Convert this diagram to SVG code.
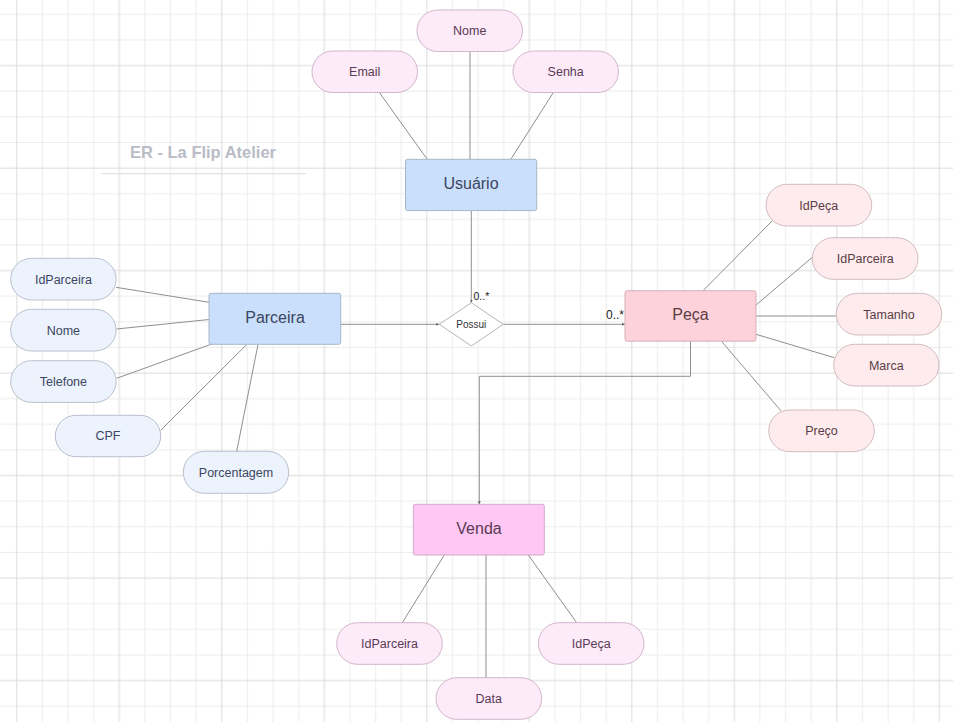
<svg xmlns="http://www.w3.org/2000/svg" width="953" height="722" viewBox="0 0 953 722">
<style>
text{font-family:"Liberation Sans",Arial,sans-serif}
.ent{font-size:16px;text-anchor:middle}
.att{font-size:12.5px;text-anchor:middle}
.con{fill:none;stroke:#8f8f8f;stroke-width:1}
.blueE{fill:#cadffc;stroke:#a9b6c9;stroke-width:1}
.pinkE{fill:#fed2da;stroke:#d6b2b8;stroke-width:1}
.magE{fill:#ffc8f4;stroke:#d3a9cb;stroke-width:1}
.blueA{fill:#edf3fd;stroke:#b9c0cc;stroke-width:1}
.pinkA{fill:#fdebee;stroke:#d3bcc0;stroke-width:1}
.magA{fill:#fdebf9;stroke:#d3b6cc;stroke-width:1}
.tb{fill:#3b4660}
.tp{fill:#5a3d45}
.tm{fill:#5a3a55}
</style>
<defs>
<pattern id="grid" patternUnits="userSpaceOnUse" x="4" y="1.65" width="102.5" height="102.5">
<g stroke="#ececec" stroke-width="1">
<line x1="38.43" y1="0" x2="38.43" y2="102.5"/>
<line x1="64.05" y1="0" x2="64.05" y2="102.5"/>
<line x1="89.68" y1="0" x2="89.68" y2="102.5"/>
<line x1="0" y1="12.8" x2="102.5" y2="12.8"/>
<line x1="0" y1="38.43" x2="102.5" y2="38.43"/>
<line x1="0" y1="89.68" x2="102.5" y2="89.68"/>
</g>
<g stroke="#dadada" stroke-width="1">
<line x1="12.8" y1="0" x2="12.8" y2="102.5"/>
<line x1="0" y1="64.05" x2="102.5" y2="64.05"/>
</g>
</pattern>
<marker id="arr" viewBox="0 0 6 6" refX="6" refY="3" markerWidth="3" markerHeight="3" orient="auto" markerUnits="userSpaceOnUse">
<path d="M0,0 L6,3 L0,6 z" fill="#666"/>
</marker>
</defs>
<rect x="0" y="0" width="953" height="722" fill="#ffffff"/>
<rect x="0" y="0" width="953" height="722" fill="url(#grid)"/>

<g id="title">
<text x="203" y="158" font-size="16.5" font-weight="bold" fill="#b9bcc6" text-anchor="middle">ER - La Flip Atelier</text>
<line x1="101" y1="173.7" x2="306" y2="173.7" stroke="#dcdcdf" stroke-width="1"/>
</g>

<g id="connectors">
<line class="con" x1="470" y1="51" x2="470" y2="159"/>
<line class="con" x1="379" y1="92" x2="427" y2="159"/>
<line class="con" x1="553" y1="93" x2="511" y2="159"/>
<line class="con" x1="116" y1="287.3" x2="209" y2="302.3"/>
<line class="con" x1="116.5" y1="329" x2="209" y2="319.5"/>
<line class="con" x1="116.7" y1="378.3" x2="211" y2="344.3"/>
<line class="con" x1="160.7" y1="430.3" x2="246.7" y2="344.5"/>
<line class="con" x1="236.7" y1="451.3" x2="258" y2="344.5"/>
<line class="con" x1="772.3" y1="220.7" x2="703" y2="290.7"/>
<line class="con" x1="812.3" y1="257.3" x2="756" y2="305"/>
<line class="con" x1="836.3" y1="316" x2="756" y2="316"/>
<line class="con" x1="834.3" y1="357.7" x2="756" y2="334.3"/>
<line class="con" x1="781.7" y1="411.7" x2="721.7" y2="341.5"/>
<line class="con" x1="402.3" y1="622.7" x2="444.3" y2="555"/>
<line class="con" x1="486" y1="677.7" x2="486" y2="555"/>
<line class="con" x1="576.7" y1="622.7" x2="528.3" y2="555"/>
<line class="con" x1="471.3" y1="210.5" x2="471.3" y2="302.7" marker-end="url(#arr)"/>
<line class="con" x1="340.7" y1="324.3" x2="439.3" y2="324.3" marker-end="url(#arr)"/>
<line class="con" x1="503.3" y1="324.3" x2="625" y2="324.3" marker-end="url(#arr)"/>
<polyline class="con" points="690.5,341 690.5,376.3 479.3,376.3 479.3,504.3" marker-end="url(#arr)"/>
<text x="473.5" y="300" font-size="10.5" fill="#222">0..*</text>
<text x="606" y="318.5" font-size="12" fill="#222">0..*</text>
</g>

<g id="usuario">
<rect class="blueE" x="405.5" y="159.3" width="131.2" height="51.3" rx="2"/>
<text class="ent tb" x="471" y="188.6">Usuário</text>
</g>
<g id="parceira">
<rect class="blueE" x="209" y="293.3" width="131.7" height="51" rx="2"/>
<text class="ent tb" x="275" y="322.6">Parceira</text>
</g>
<g id="peca">
<rect class="pinkE" x="625" y="290.7" width="131" height="50.5" rx="2"/>
<text class="ent tp" x="690.5" y="319.8">Peça</text>
</g>
<g id="venda">
<rect class="magE" x="413.3" y="504.3" width="131" height="50.7" rx="2"/>
<text class="ent tm" x="479" y="533.6">Venda</text>
</g>
<g id="possui">
<polygon points="471.3,302.7 503.3,324.3 471.3,346 439.3,324.3" fill="#ffffff" stroke="#b5b5b5" stroke-width="1"/>
<text x="471.3" y="327.7" font-size="10" fill="#333" text-anchor="middle">Possui</text>
</g>

<g id="usuario-nome"><rect class="magA" x="417" y="10" width="105.5" height="41.5" rx="20.75"/><text class="att tm" x="469.7" y="35">Nome</text></g>
<g id="usuario-email"><rect class="magA" x="312" y="51" width="105.5" height="41.5" rx="20.75"/><text class="att tm" x="364.7" y="76">Email</text></g>
<g id="usuario-senha"><rect class="magA" x="513" y="51" width="105.5" height="41.5" rx="20.75"/><text class="att tm" x="565.7" y="76">Senha</text></g>

<g id="parceira-idparceira"><rect class="blueA" x="10.7" y="258.3" width="105.4" height="41.7" rx="20.85"/><text class="att tb" x="63.4" y="283.5">IdParceira</text></g>
<g id="parceira-nome"><rect class="blueA" x="10.7" y="309.3" width="105.4" height="41.7" rx="20.85"/><text class="att tb" x="63.4" y="334.5">Nome</text></g>
<g id="parceira-telefone"><rect class="blueA" x="10.7" y="360.7" width="105.4" height="41.7" rx="20.85"/><text class="att tb" x="63.4" y="385.9">Telefone</text></g>
<g id="parceira-cpf"><rect class="blueA" x="55.3" y="415.3" width="105.4" height="41.4" rx="20.7"/><text class="att tb" x="108" y="440.4">CPF</text></g>
<g id="parceira-porcentagem"><rect class="blueA" x="183.3" y="451.3" width="105.4" height="42" rx="21"/><text class="att tb" x="236" y="476.6">Porcentagem</text></g>

<g id="peca-idpeca"><rect class="pinkA" x="766" y="184.3" width="105.7" height="41.7" rx="20.85"/><text class="att tp" x="818.8" y="209.5">IdPeça</text></g>
<g id="peca-idparceira"><rect class="pinkA" x="812.3" y="237.7" width="105.7" height="41.6" rx="20.8"/><text class="att tp" x="865.2" y="262.9">IdParceira</text></g>
<g id="peca-tamanho"><rect class="pinkA" x="836.3" y="293.3" width="105.4" height="41.7" rx="20.85"/><text class="att tp" x="889" y="318.5">Tamanho</text></g>
<g id="peca-marca"><rect class="pinkA" x="833.7" y="344.3" width="105.3" height="41.7" rx="20.85"/><text class="att tp" x="886.3" y="369.5">Marca</text></g>
<g id="peca-preco"><rect class="pinkA" x="768.7" y="410" width="105.6" height="41.7" rx="20.85"/><text class="att tp" x="821.5" y="435.2">Preço</text></g>

<g id="venda-idparceira"><rect class="magA" x="336.7" y="622.7" width="105.6" height="41.6" rx="20.8"/><text class="att tm" x="389.5" y="647.9">IdParceira</text></g>
<g id="venda-idpeca"><rect class="magA" x="538.3" y="622.7" width="105.7" height="41.6" rx="20.8"/><text class="att tm" x="591.2" y="647.9">IdPeça</text></g>
<g id="venda-data"><rect class="magA" x="436" y="677.7" width="105.7" height="41.6" rx="20.8"/><text class="att tm" x="488.8" y="702.9">Data</text></g>
</svg>
